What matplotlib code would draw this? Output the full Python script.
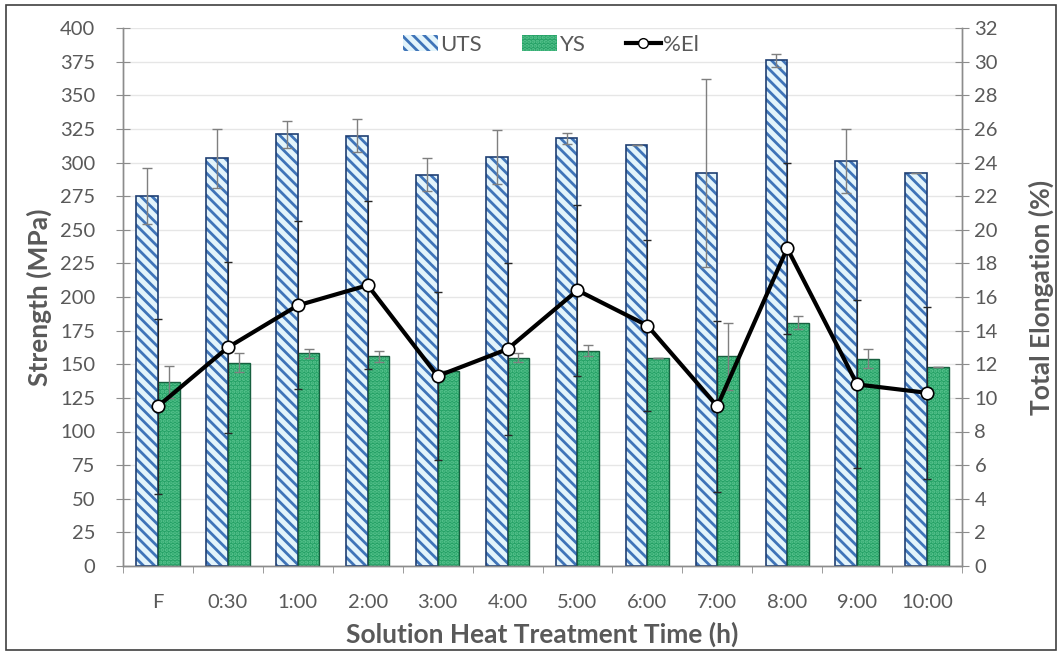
import numpy as np
import matplotlib
matplotlib.use('Agg')
from matplotlib import pyplot as plt
from matplotlib.patches import Patch, Rectangle
from matplotlib.lines import Line2D

plt.rcParams['font.family'] = ['Lato', 'DejaVu Sans']
plt.rcParams['hatch.linewidth'] = 2.0

# data
times = ['F', '0:30', '1:00', '2:00', '3:00', '4:00', '5:00', '6:00', '7:00', '8:00', '9:00', '10:00']
uts = [275, 303, 321, 320, 291, 304, 318, 313, 292, 376, 301, 292]
uts_err = [21, 22, 10, 12, 12, 20, 4, 0, 70, 5, 24, 0]
ys = [137, 151, 158, 156, 145, 155, 160, 155, 156, 181, 154, 148]
ys_err = [12, 7, 3, 4, 0, 3, 4, 0, 25, 5, 7, 0]
elong = [9.5, 13.0, 15.5, 16.7, 11.3, 12.9, 16.4, 14.3, 9.5, 18.9, 10.8, 10.3]
elong_err = [5.2, 5.1, 5.0, 5.0, 5.0, 5.1, 5.1, 5.1, 5.1, 5.1, 5.0, 5.1]

gray_txt = '#595959'
spine_c = '#8c8c8c'
uts_face = '#e3f4fb'
uts_hatch = '#3f74b8'
uts_edge = '#1f3f73'
ys_face = '#24a065'
ys_hatch = '#59c48f'
ys_edge = '#17603f'

fig = plt.figure(figsize=(10.62, 6.55), dpi=100)
ax = fig.add_axes([123/1062, 1-566/655, (962-123)/1062, (566-28)/655])
ax2 = ax.twinx()

x = np.arange(len(times))
w = 0.31

# bars: hatch layer then outline layer
ax.bar(x - w/2, uts, w, color=uts_face, edgecolor=uts_hatch, hatch='\\\\\\', linewidth=0, zorder=2)
ax.bar(x - w/2, uts, w, fill=False, edgecolor=uts_edge, linewidth=1.2, zorder=3)
ax.bar(x + w/2, ys, w, color=ys_face, edgecolor=ys_hatch, hatch='....', linewidth=0, zorder=2)
ax.bar(x + w/2, ys, w, fill=False, edgecolor=ys_edge, linewidth=1.0, zorder=3)

ax.errorbar(x - w/2, uts, yerr=uts_err, fmt='none', ecolor='#7f7f7f', elinewidth=1, capsize=3.5, zorder=4)
ax.errorbar(x + w/2, ys, yerr=ys_err, fmt='none', ecolor='#7f7f7f', elinewidth=1, capsize=3.5, zorder=4)

ax.set_ylim(0, 400)
ax.set_yticks(np.arange(0, 401, 25))
ax.set_xlim(-0.5, len(times) - 0.5)
ax.set_xticks(x)
ax.set_xticklabels(times)
ax.set_xticks(np.arange(-0.5, len(times), 1), minor=True)
ax.tick_params(axis='x', which='major', length=0, pad=20, labelsize=14.5, labelcolor=gray_txt)
ax.tick_params(axis='x', which='minor', length=5, color=spine_c)
ax.tick_params(axis='y', direction='inout', length=10, color=spine_c, labelsize=14.5, labelcolor=gray_txt, pad=15)
ax.grid(axis='y', color='#e6e6e6', linewidth=1, zorder=0)
ax.set_axisbelow(True)

# elongation on right axis
ax2.errorbar(x, elong, yerr=elong_err, fmt='none', ecolor='#262626', elinewidth=0.8, capsize=3, zorder=4)
ax2.plot(x, elong, color='black', linewidth=3, marker='o', markersize=9,
         markerfacecolor='white', markeredgecolor='black', markeredgewidth=1.2, zorder=5)
ax2.set_ylim(0, 32)
ax2.set_yticks(np.arange(0, 33, 2))
ax2.tick_params(axis='y', direction='inout', length=10, color=spine_c, labelsize=14.5, labelcolor=gray_txt, pad=4)

for a in (ax, ax2):
    a.spines['top'].set_visible(False)
    for s in ('left', 'right', 'bottom'):
        a.spines[s].set_color(spine_c)
        a.spines[s].set_linewidth(1)

ax.set_ylabel('Strength (MPa)', fontsize=19, fontweight='bold', color=gray_txt, labelpad=6)
ax2.set_ylabel('Total Elongation (%)', fontsize=19, fontweight='bold', color=gray_txt, labelpad=22)
ax.set_xlabel('Solution Heat Treatment Time (h)', fontsize=19, fontweight='bold', color=gray_txt, labelpad=8)

handles = [
    Patch(facecolor=uts_face, edgecolor=uts_hatch, hatch='\\\\\\', linewidth=0),
    Patch(facecolor=ys_face, edgecolor=ys_hatch, hatch='....', linewidth=0),
    Line2D([0], [0], color='black', linewidth=3, marker='o', markersize=7,
           markerfacecolor='white', markeredgecolor='black'),
]
leg = ax2.legend(handles, ['UTS', 'YS', '%El'], loc='upper center', bbox_to_anchor=(0.51, 1.025),
                 ncol=3, frameon=False, fontsize=16, handlelength=1.6, handletextpad=0.1,
                 columnspacing=1.8)
for t in leg.get_texts():
    t.set_color(gray_txt)

fig.patches.append(Rectangle((6/1062, 5/655), 1 - 12/1062, 1 - 10/655, transform=fig.transFigure,
                             fill=False, edgecolor='#404040', linewidth=1.2))

fig.savefig('out.png', dpi=100)
